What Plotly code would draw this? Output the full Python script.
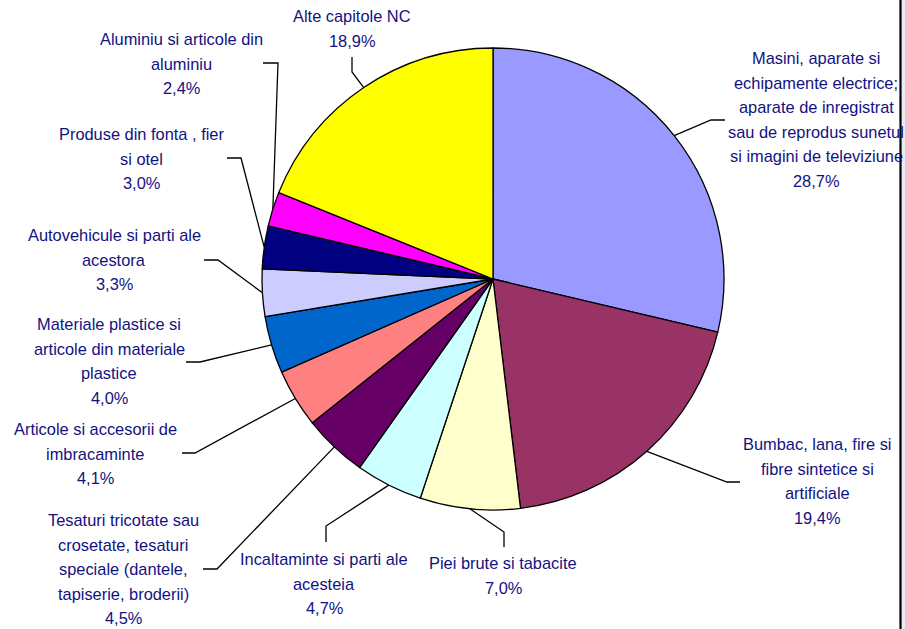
import math
import plotly.graph_objects as go

# ---------------- data ----------------
categories = [
    "Masini, aparate si echipamente electrice; aparate de inregistrat sau de reprodus sunetul si imagini de televiziune",
    "Bumbac, lana, fire si fibre sintetice si artificiale",
    "Piei brute si tabacite",
    "Incaltaminte si parti ale acesteia",
    "Tesaturi tricotate sau crosetate, tesaturi speciale (dantele, tapiserie, broderii)",
    "Articole si accesorii de imbracaminte",
    "Materiale plastice si articole din materiale plastice",
    "Autovehicule si parti ale acestora",
    "Produse din fonta , fier si otel",
    "Aluminiu si articole din aluminiu",
    "Alte capitole NC",
]
values = [28.7, 19.4, 7.0, 4.7, 4.5, 4.1, 4.0, 3.3, 3.0, 2.4, 18.9]
label_lines = [
    ["Masini, aparate si", "echipamente electrice;", "aparate de inregistrat",
     "sau de reprodus sunetul", "si imagini de televiziune"],
    ["Bumbac, lana, fire si", "fibre sintetice si", "artificiale"],
    ["Piei brute si tabacite"],
    ["Incaltaminte si parti ale", "acesteia"],
    ["Tesaturi tricotate sau", "crosetate, tesaturi", "speciale (dantele,", "tapiserie, broderii)"],
    ["Articole si accesorii de", "imbracaminte"],
    ["Materiale plastice si", "articole din materiale", "plastice"],
    ["Autovehicule si parti ale", "acestora"],
    ["Produse din fonta , fier", "si otel"],
    ["Aluminiu si articole din", "aluminiu"],
    ["Alte capitole NC"],
]
colors = ["#9999FF", "#993366", "#FFFFCC", "#CCFFFF", "#660066", "#FF8080",
          "#0066CC", "#CCCCFF", "#000080", "#FF00FF", "#FFFF00"]

# ---------------- layout (pixels) ----------------
W, H = 905, 629
CX, CY, R = 493, 279, 231
LINE_H = 24.6
TEXT_COLOR = "#12127F"
FONT = "Liberation Sans, Arial, sans-serif"
FS = 16.4

# label block: (center x, first line y)
label_pos = [(816, 58), (817, 444), (503, 563), (324, 559), (123, 520), (95, 429),
             (109, 324), (114, 235), (141, 134), (181, 39), (352, 16)]
# leader: elbow point, end point
leaders = [
    ((711, 120), (725, 120)),
    ((727, 482), (740, 482)),
    ((504, 532), (504, 547)),
    ((326, 526), (326, 542)),
    ((217, 569), (203, 569)),
    ((195, 453), (182, 453)),
    ((200, 362), (186, 362)),
    ((218, 260), (204, 260)),
    ((241, 158), (227, 158)),
    ((278, 63), (263, 63)),
    ((352, 72), (352, 57)),
]

fig = go.Figure()

# leader lines (edge point derived from the data through the pie geometry)
total = sum(values)
cum = 0.0
for v, ((ex_, ey_), (nx, ny)) in zip(values, leaders):
    mid = (cum + v / 2) / total * 2 * math.pi
    cum += v
    px = CX + R * math.sin(mid)
    py = CY - R * math.cos(mid)
    fig.add_trace(go.Scatter(
        x=[px, ex_, nx], y=[py, ey_, ny], mode="lines",
        line=dict(color="black", width=1.3), hoverinfo="skip", showlegend=False,
    ))

fig.add_trace(go.Pie(
    labels=categories, values=values, sort=False, direction="clockwise", rotation=0,
    marker=dict(colors=colors, line=dict(color="black", width=1.3)),
    textinfo="none", hoverinfo="label+percent", showlegend=False,
    domain=dict(x=[(CX - R) / W, (CX + R) / W], y=[1 - (CY + R) / H, 1 - (CY - R) / H]),
))

annotations = []
for lines, v, (lx, ly) in zip(label_lines, values, label_pos):
    pct = f"{v:.1f}".replace(".", ",") + "%"
    for i, t in enumerate(lines + [pct]):
        annotations.append(dict(
            x=lx, y=ly + i * LINE_H, xref="x", yref="y", text=t, showarrow=False,
            xanchor="center", yanchor="middle",
            font=dict(family=FONT, size=FS, color=TEXT_COLOR),
        ))

shapes = [
    dict(type="rect", xref="x", yref="y", x0=901, x1=906, y0=-2, y1=H + 2,
         fillcolor="#ECECF6", line=dict(width=0), layer="above"),
    dict(type="line", xref="x", yref="y", x0=900.5, x1=900.5, y0=-2, y1=H + 2,
         line=dict(color="black", width=2.2), layer="above"),
]

fig.update_layout(
    width=W, height=H, margin=dict(l=0, r=0, t=0, b=0),
    paper_bgcolor="white", plot_bgcolor="white",
    xaxis=dict(range=[0, W], visible=False, fixedrange=True, domain=[0, 1]),
    yaxis=dict(range=[H, 0], visible=False, fixedrange=True, domain=[0, 1]),
    annotations=annotations, shapes=shapes, showlegend=False,
)

fig.write_html(
    "out.html",
    config={"displayModeBar": False},
    post_script="document.body.style.margin='0';document.body.style.overflow='hidden';",
)
